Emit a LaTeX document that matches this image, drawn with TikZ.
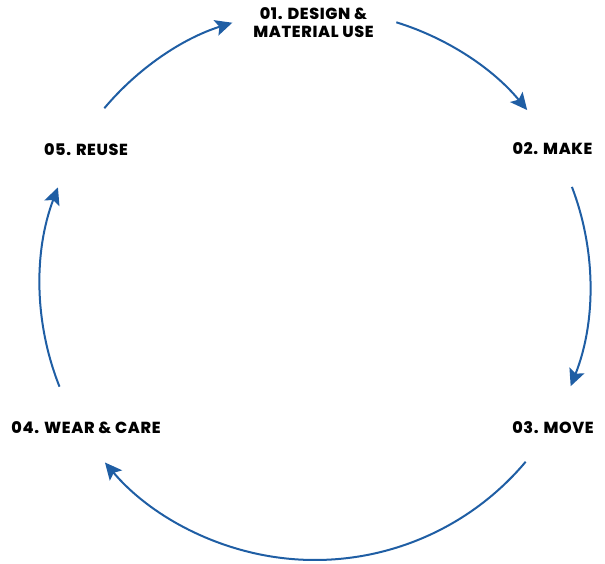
\documentclass[tikz,border=0pt]{standalone}
\usepackage{fontspec}
\setmainfont{Poppins}[BoldFont=* ExtraBold, LetterSpace=4]
\usetikzlibrary{arrows.meta,calc}
\definecolor{cycleblue}{RGB}{31,94,164}
\tikzset{
  stage/.style={font=\bfseries\fontsize{16}{18}\selectfont, text=black, align=center, inner sep=0pt},
  flow/.style={draw=cycleblue, line width=2pt, -{Stealth[length=17pt,width=16pt,inset=3.5pt]}, cycleblue}
}
\begin{document}
\begin{tikzpicture}[x=1pt,y=1pt]
  \useasboundingbox (0,0) rectangle (605,564);
  % centre of the cycle
  \coordinate (c) at (315,279);
  \def\R{275}
  % stage labels
  \node[stage] (s1) at (313.5,541) {01. DESIGN \&\\MATERIAL USE};
  \node[stage] (s2) at (552.5,415) {02. MAKE};
  \node[stage] (s3) at (553,136.5) {03. MOVE};
  \node[stage] (s4) at (86,136.5) {04. WEAR \& CARE};
  \node[stage] (s5) at (86,414.5) {05. REUSE};
  % arc end points
  \coordinate (a1) at ($(c)+(140:\R)$);
  \coordinate (a2) at ($(c)+(72.8:\R)$);
  \coordinate (a3) at ($(c)+(20.9:\R)$);
  \coordinate (a4) at ($(c)+(-40:\R)$);
  \coordinate (a5) at ($(c)+(-158.3:\R)$);
  % arrows between stages
  \draw[flow] (a1) arc[start angle=140, end angle=107.5, radius=\R];
  \draw[flow] (a2) arc[start angle=72.8, end angle=39.5, radius=\R];
  \draw[flow] (a3) arc[start angle=20.9, end angle=-21.6, radius=\R];
  \draw[flow] (a4) arc[start angle=-40, end angle=-139.8, radius=\R];
  \draw[flow] (a5) arc[start angle=-158.3, end angle=-200.8, radius=\R];
\end{tikzpicture}
\end{document}
